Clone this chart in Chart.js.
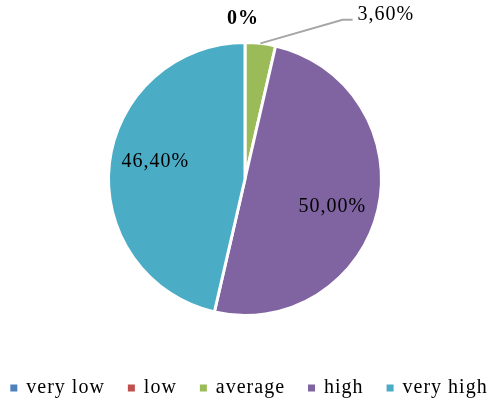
<!DOCTYPE html>
<html><head><meta charset="utf-8">
<script src="https://cdn.jsdelivr.net/npm/chart.js@4"></script>
<style>html,body{margin:0;padding:0;background:#fff}#wrap{width:490px;height:402px;position:relative}</style>
</head><body><div id="wrap"><canvas id="c"></canvas></div>
<script>
const categories = ['very low', 'low', 'average', 'high', 'very high'];
const shares = [0, 0, 3.6, 50.0, 46.4];
const valueLabels = ['0%', '0%', '3,60%', '50,00%', '46,40%'];
const colors = ['#4F81BD', '#C0504D', '#9BBB59', '#8064A2', '#4BACC6'];

const FONT = '"Liberation Serif", "Times New Roman", serif';

const labelPlugin = {
  id: 'valueLabels',
  afterDatasetsDraw(chart) {
    const ctx = chart.ctx;
    const meta = chart.getDatasetMeta(0);
    ctx.save();
    ctx.letterSpacing = '1px';
    ctx.fillStyle = '#000';
    ctx.textBaseline = 'middle';
    meta.data.forEach((arc, i) => {
      const p = arc.getProps(['x', 'y', 'startAngle', 'endAngle', 'outerRadius'], true);
      const r = p.outerRadius;
      const mid = (p.startAngle + p.endAngle) / 2;
      const v = shares[i];
      if (v === 0) {
        if (i > 0 && shares[i - 1] === 0) return;
        ctx.font = 'bold 20px ' + FONT;
        ctx.textAlign = 'center';
        ctx.fillText(valueLabels[i], p.x + Math.cos(mid) * (r + 24) - 2, p.y + Math.sin(mid) * (r + 24));
      } else if (v < 10) {
        const x0 = p.x + Math.cos(mid) * r, y0 = p.y + Math.sin(mid) * r;
        const x1 = p.x + r * 0.715, y1 = p.y - r * 1.167;
        const x2 = x1 + 10;
        ctx.strokeStyle = '#A6A6A6';
        ctx.lineWidth = 2;
        ctx.beginPath();
        ctx.moveTo(x0, y0); ctx.lineTo(x1, y1); ctx.lineTo(x2, y1);
        ctx.stroke();
        ctx.font = '20px ' + FONT;
        ctx.textAlign = 'left';
        ctx.fillText(valueLabels[i], x2 + 5, y1 - 5);
      } else {
        const a = mid + 4.5 * Math.PI / 180;
        ctx.font = '20px ' + FONT;
        ctx.textAlign = 'center';
        ctx.fillText(valueLabels[i], p.x + Math.cos(a) * r * 0.67, p.y + Math.sin(a) * r * 0.67);
      }
    });
    ctx.restore();
  }
};

const legendPlugin = {
  id: 'bottomLegend',
  afterDraw(chart) {
    const ctx = chart.ctx;
    ctx.save();
    ctx.letterSpacing = '1px';
    ctx.font = '20px ' + FONT;
    ctx.textBaseline = 'middle';
    ctx.textAlign = 'left';
    const box = 7, gapText = 9, gap = 23;
    const widths = categories.map(c => ctx.measureText(c).width);
    const total = widths.reduce((a, w) => a + box + gapText + w, 0) + gap * (categories.length - 1);
    let x = (chart.width - total) / 2 + 4;
    const y = 388;
    categories.forEach((c, i) => {
      ctx.fillStyle = colors[i];
      ctx.fillRect(x, y - box / 2, box, box);
      ctx.fillStyle = '#000';
      ctx.fillText(c, x + box + gapText, y);
      x += box + gapText + widths[i] + gap;
    });
    ctx.restore();
  }
};

new Chart(document.getElementById('c'), {
  type: 'pie',
  data: {
    labels: categories,
    datasets: [{
      data: shares,
      backgroundColor: colors,
      borderColor: '#ffffff',
      borderWidth: 3
    }]
  },
  options: {
    responsive: true,
    maintainAspectRatio: false,
    animation: false,
    layout: { padding: { top: 41, bottom: 85, left: 0, right: 0 } },
    plugins: { legend: { display: false }, tooltip: { enabled: false } }
  },
  plugins: [labelPlugin, legendPlugin]
});
</script>
</body></html>
